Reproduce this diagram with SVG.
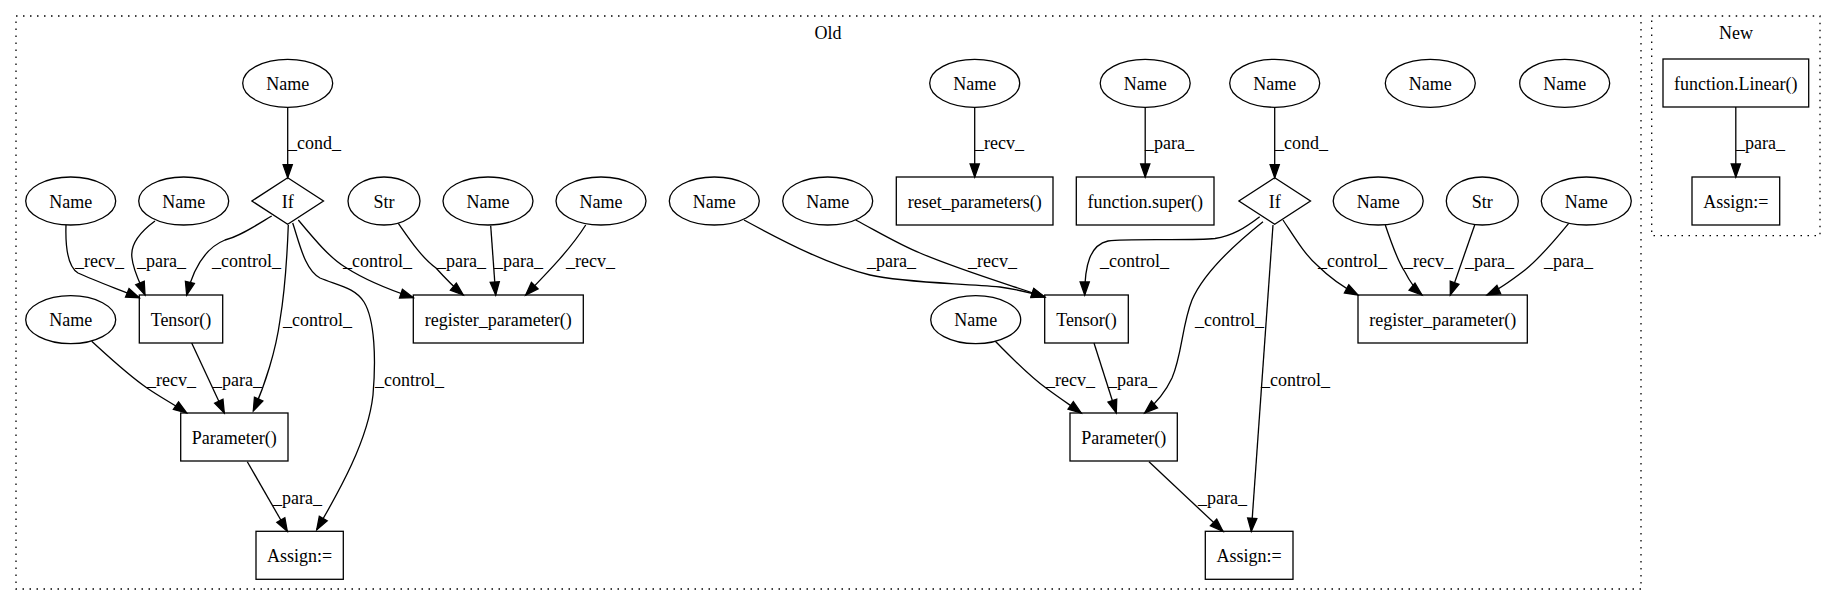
<svg xmlns="http://www.w3.org/2000/svg" width="1836" height="606" viewBox="0 0 1836 606" font-family="'Liberation Serif', 'DejaVu Serif', serif" font-size="18">
<style>
text{font-family:'Liberation Serif','DejaVu Serif',serif;font-size:18px;fill:#000}
.n text{text-anchor:middle}
.n ellipse,.n rect,.n polygon{fill:none;stroke:#000;stroke-width:1.3}
.cl{fill:none;stroke:#000;stroke-width:1.3;stroke-dasharray:1.5,5.5}
#edges path{fill:none;stroke:#000;stroke-width:1.3;marker-end:url(#arr)}
</style>
<defs>
<marker id="arr" markerUnits="userSpaceOnUse" markerWidth="16" markerHeight="12" refX="13" refY="4.6" orient="auto" overflow="visible">
<path d="M0,0 L13,4.6 L0,9.2 Z" fill="#000" stroke="#000" stroke-width="1.3"/>
</marker>
</defs>
<rect width="1836" height="606" fill="#fff"/>
<g id="clusters">
<rect class="cl" x="16" y="16" width="1625" height="573"/>
<text x="828" y="39" text-anchor="middle">Old</text>
<rect class="cl" x="1651.7" y="16" width="168.3" height="219.7"/>
<text x="1736" y="39" text-anchor="middle">New</text>
</g>
<g id="edges">
<path d="M287.7,107.3 L287.7,177.7"/>
<path d="M66,225 C65,255 70,268 78,273 C95,281 118,289 139.3,297.7"/>
<path d="M155,221 C140,232 130,245 132,258 C133,270 140,283 145,295"/>
<path d="M271.7,216 C255,226 240,236 225,240 C205,248 193,270 186.7,295"/>
<path d="M288.3,225 C287,260 285,290 280,320 C276,350 265,385 253.3,411"/>
<path d="M292.7,223 C300,245 305,270 320,278 C340,286 355,288 364,302 C375,320 376,360 373,395 C368,440 340,490 316.7,529.7"/>
<path d="M298.3,220 C315,240 330,258 345,267 C365,280 390,290 413.3,297.7"/>
<path d="M398.3,223.3 C410,240 422,258 436,268 C445,278 455,288 463.3,295"/>
<path d="M490.7,225.7 L495.7,295"/>
<path d="M585.7,225 C570,250 545,275 525.7,295"/>
<path d="M91.7,341.3 C110,358 128,375 147,388 C160,397 175,405 186.7,413"/>
<path d="M191.7,343 L224.3,413"/>
<path d="M247.3,461.7 L287.3,531.3"/>
<path d="M974.7,107.3 L974.7,177"/>
<path d="M1145.2,107.3 L1145.2,177"/>
<path d="M1274.7,107.3 L1274.7,177.7"/>
<path d="M744,220 C790,245 830,265 870,275 C905,283 960,283 1000,287 C1020,290 1035,294 1044.7,297"/>
<path d="M855.7,220 C880,233 900,245 920,253 C960,270 1010,285 1044.7,297"/>
<path d="M1259.7,216.7 C1245,228 1232,236 1215,238.5 C1190,241 1130,238 1108,241 C1090,245 1084.7,265 1084.7,295"/>
<path d="M1263,221.7 C1240,240 1205,270 1192,300 C1182,325 1182,355 1172,378 C1165,393 1155,404 1144.7,413"/>
<path d="M1273,225 L1251.3,531.3"/>
<path d="M1283,220 C1295,238 1305,255 1318,266 C1330,278 1345,288 1358,295"/>
<path d="M1385.3,225 C1392,245 1398,262 1405,272 C1410,282 1416,290 1422,295"/>
<path d="M1474.7,225 L1450.3,295"/>
<path d="M1568.7,223.3 C1555,240 1540,258 1525,270 C1512,280 1498,290 1487,295"/>
<path d="M995.3,341.3 C1012,358 1028,375 1046,388 C1058,397 1070,405 1081.3,413"/>
<path d="M1094,343 L1116.3,413"/>
<path d="M1149,461.7 L1223,531.3"/>
<path d="M1735.8,107 L1735.8,177"/>
</g>
<g id="edge-labels">
<text x="288" y="149">_cond_</text>
<text x="75" y="267">_recv_</text>
<text x="137" y="267">_para_</text>
<text x="212" y="267">_control_</text>
<text x="283" y="326">_control_</text>
<text x="375" y="386">_control_</text>
<text x="343" y="267">_control_</text>
<text x="437" y="267">_para_</text>
<text x="494" y="267">_para_</text>
<text x="566" y="267">_recv_</text>
<text x="147" y="386">_recv_</text>
<text x="213" y="386">_para_</text>
<text x="273" y="504">_para_</text>
<text x="975" y="149">_recv_</text>
<text x="1145" y="149">_para_</text>
<text x="1275" y="149">_cond_</text>
<text x="867" y="267">_para_</text>
<text x="968" y="267">_recv_</text>
<text x="1100" y="267">_control_</text>
<text x="1195" y="326">_control_</text>
<text x="1261" y="386">_control_</text>
<text x="1318" y="267">_control_</text>
<text x="1404" y="267">_recv_</text>
<text x="1465" y="267">_para_</text>
<text x="1544" y="267">_para_</text>
<text x="1046" y="386">_recv_</text>
<text x="1108" y="386">_para_</text>
<text x="1198" y="504">_para_</text>
<text x="1736" y="149">_para_</text>
</g>
<g id="n1" class="n"><ellipse cx="287.7" cy="83.3" rx="45" ry="24"/><text x="287.7" y="89.5">Name</text></g>
<g id="n2" class="n"><polygon points="287.7,177.7 323.5,201 287.7,224.3 251.9,201"/><text x="287.7" y="207.5">If</text></g>
<g id="n3" class="n"><ellipse cx="70.7" cy="201" rx="45" ry="24"/><text x="70.7" y="207.5">Name</text></g>
<g id="n4" class="n"><ellipse cx="183.7" cy="201" rx="45" ry="24"/><text x="183.7" y="207.5">Name</text></g>
<g id="n5" class="n"><ellipse cx="384" cy="201" rx="36" ry="24"/><text x="384" y="207.5">Str</text></g>
<g id="n6" class="n"><ellipse cx="488" cy="201" rx="45" ry="24"/><text x="488" y="207.5">Name</text></g>
<g id="n7" class="n"><ellipse cx="601" cy="201" rx="45" ry="24"/><text x="601" y="207.5">Name</text></g>
<g id="n8" class="n"><rect x="139.3" y="295" width="83.4" height="48"/><text x="181" y="325.5">Tensor()</text></g>
<g id="n9" class="n"><rect x="413.3" y="295" width="170" height="48"/><text x="498.3" y="325.5">register_parameter()</text></g>
<g id="n10" class="n"><ellipse cx="70.7" cy="319.7" rx="45" ry="24"/><text x="70.7" y="326">Name</text></g>
<g id="n11" class="n"><rect x="180.7" y="413" width="107.3" height="48"/><text x="234.3" y="443.5">Parameter()</text></g>
<g id="n12" class="n"><rect x="256" y="531.3" width="87.3" height="48"/><text x="299.7" y="561.5">Assign:=</text></g>
<g id="n13" class="n"><ellipse cx="714.3" cy="201" rx="45" ry="24"/><text x="714.3" y="207.5">Name</text></g>
<g id="n14" class="n"><ellipse cx="827.7" cy="201" rx="45" ry="24"/><text x="827.7" y="207.5">Name</text></g>
<g id="n15" class="n"><ellipse cx="974.7" cy="83.3" rx="45" ry="24"/><text x="974.7" y="89.5">Name</text></g>
<g id="n16" class="n"><rect x="896.3" y="177" width="156.7" height="48"/><text x="974.7" y="207.5">reset_parameters()</text></g>
<g id="n17" class="n"><ellipse cx="1145.2" cy="83.3" rx="45" ry="24"/><text x="1145.2" y="89.5">Name</text></g>
<g id="n18" class="n"><rect x="1076.3" y="177" width="137.7" height="48"/><text x="1145.2" y="207.5">function.super()</text></g>
<g id="n19" class="n"><ellipse cx="1274.7" cy="83.3" rx="45" ry="24"/><text x="1274.7" y="89.5">Name</text></g>
<g id="n20" class="n"><polygon points="1274.7,177.7 1310.5,201 1274.7,224.3 1238.9,201"/><text x="1274.7" y="207.5">If</text></g>
<g id="n21" class="n"><ellipse cx="1430.3" cy="83.3" rx="45" ry="24"/><text x="1430.3" y="89.5">Name</text></g>
<g id="n22" class="n"><ellipse cx="1564.7" cy="83.3" rx="45" ry="24"/><text x="1564.7" y="89.5">Name</text></g>
<g id="n23" class="n"><ellipse cx="1378.2" cy="201" rx="45" ry="24"/><text x="1378.2" y="207.5">Name</text></g>
<g id="n24" class="n"><ellipse cx="1482.3" cy="201" rx="36" ry="24"/><text x="1482.3" y="207.5">Str</text></g>
<g id="n25" class="n"><ellipse cx="1586.3" cy="201" rx="45" ry="24"/><text x="1586.3" y="207.5">Name</text></g>
<g id="n26" class="n"><rect x="1044.7" y="295" width="83.6" height="48"/><text x="1086.5" y="325.5">Tensor()</text></g>
<g id="n27" class="n"><rect x="1358" y="295" width="169.3" height="48"/><text x="1442.7" y="325.5">register_parameter()</text></g>
<g id="n28" class="n"><ellipse cx="975.7" cy="319.7" rx="45" ry="24"/><text x="975.7" y="326">Name</text></g>
<g id="n29" class="n"><rect x="1070" y="413" width="107.3" height="48"/><text x="1123.7" y="443.5">Parameter()</text></g>
<g id="n30" class="n"><rect x="1205.3" y="531.3" width="87.7" height="48"/><text x="1249.2" y="561.5">Assign:=</text></g>
<g id="n31" class="n"><rect x="1663" y="59" width="145.7" height="48"/><text x="1735.8" y="89.5">function.Linear()</text></g>
<g id="n32" class="n"><rect x="1692" y="177" width="87.7" height="48"/><text x="1735.8" y="207.5">Assign:=</text></g>
</svg>
